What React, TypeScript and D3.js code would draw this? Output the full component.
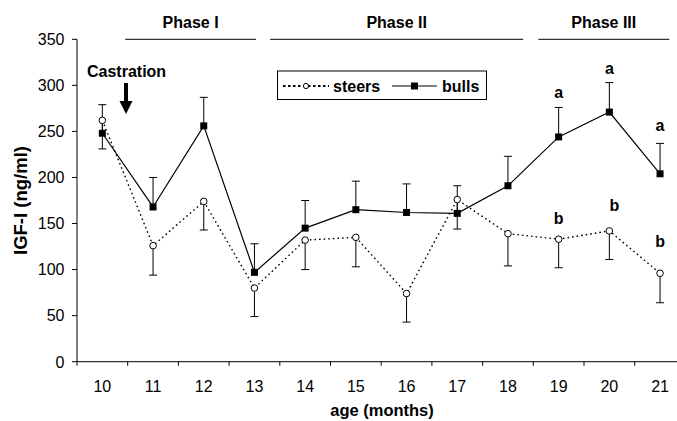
import React from "react";
import * as d3 from "d3";

const months = [10, 11, 12, 13, 14, 15, 16, 17, 18, 19, 20, 21];
const steers = [262, 126, 174, 80, 132, 135, 74, 176, 139, 133, 142, 96];
const steersLow = [231, 94, 143, 49, 100, 103, 43, 144, 104, 102, 111, 64];
const bulls = [248, 168, 256, 97, 145, 165, 162, 161, 191, 244, 271, 204];
const bullsHigh = [279, 200, 287, 128, 175, 196, 193, 191, 223, 276, 303, 237];
const yTicks = [0, 50, 100, 150, 200, 250, 300, 350];
const phaseLabels = ["Phase I", "Phase II", "Phase III"];
const phaseStart = [0.95, 3.81, 9.1];
const phaseEnd = [3.53, 8.8, 11.68];
const letterMonths = [19, 20, 21];
const bullLetters = ["a", "a", "a"];
const bullLetterAt = [286, 312, 250];
const steerLetters = ["b", "b", "b"];
const steerLetterAt = [150, 164, 125];

const W = 677;
const H = 421;
const FONT = "'Liberation Sans', Arial, sans-serif";

export default function App() {
  const x = d3.scaleBand<number>().domain(months).range([77, 77 + 12 * 50.7]).padding(0);
  const cx = (m: number) => (x(m) as number) + x.bandwidth() / 2;
  const y = d3.scaleLinear().domain([0, 350]).range([361.7, 39.3]);
  const unit = x.bandwidth();
  const x0 = 77;

  const line = d3
    .line<number>()
    .x((_, i) => cx(months[i]))
    .y((d) => y(d));

  const cap = 4;
  const fs = 16;

  return (
    <svg width={W} height={H} style={{ position: "absolute", left: 0, top: 0, background: "#fff" }} fontFamily={FONT}>
      <rect width={W} height={H} fill="#fff" />
      {/* phases */}
      {phaseLabels.map((p, i) => {
        const a = x0 + phaseStart[i] * unit;
        const b = x0 + phaseEnd[i] * unit;
        return (
          <g key={p}>
            <line x1={a} x2={b} y1={39.3} y2={39.3} stroke="#000" strokeWidth={1} />
            <text x={(a + b) / 2} y={28.3} textAnchor="middle" fontSize={fs} fontWeight="bold">
              {p}
            </text>
          </g>
        );
      })}

      {/* y axis */}
      <line x1={77} x2={77} y1={y(350)} y2={y(0)} stroke="#000" />
      {yTicks.map((t) => (
        <g key={t}>
          <line x1={72} x2={77} y1={y(t)} y2={y(t)} stroke="#000" />
          <text x={64.5} y={y(t) + 5.8} textAnchor="end" fontSize={fs}>
            {t}
          </text>
        </g>
      ))}
      {/* x axis */}
      <line x1={77} x2={77 + 12 * unit} y1={y(0)} y2={y(0)} stroke="#000" />
      {months.map((m, i) => (
        <g key={m}>
          <line x1={(x(m) as number) + unit} x2={(x(m) as number) + unit} y1={y(0)} y2={y(0) + 4} stroke="#000" />
          {i === 0 && <line x1={x0} x2={x0} y1={y(0)} y2={y(0) + 4} stroke="#000" />}
          <text x={cx(m)} y={392} textAnchor="middle" fontSize={fs}>
            {m}
          </text>
        </g>
      ))}

      <text x={382} y={416} textAnchor="middle" fontSize={16.5} fontWeight="bold">
        age (months)
      </text>
      <text
        transform={`translate(26.5,${(y(0) + y(350)) / 2}) rotate(-90)`}
        textAnchor="middle"
        fontSize={18.5}
        fontWeight="bold"
      >
        IGF-I (ng/ml)
      </text>

      {/* error bars */}
      {months.map((m, i) => (
        <g key={"eb" + m} stroke="#000" strokeWidth={1}>
          <line x1={cx(m)} x2={cx(m)} y1={y(bulls[i])} y2={y(bullsHigh[i])} />
          <line x1={cx(m) - cap} x2={cx(m) + cap} y1={y(bullsHigh[i])} y2={y(bullsHigh[i])} />
          <line x1={cx(m)} x2={cx(m)} y1={y(steers[i])} y2={y(steersLow[i])} />
          <line x1={cx(m) - cap} x2={cx(m) + cap} y1={y(steersLow[i])} y2={y(steersLow[i])} />
        </g>
      ))}

      {/* lines */}
      <path d={line(steers) || ""} fill="none" stroke="#000" strokeWidth={1.4} strokeDasharray="1.6,3" />
      <path d={line(bulls) || ""} fill="none" stroke="#000" strokeWidth={1.2} />

      {/* markers */}
      {months.map((m, i) => (
        <g key={"mk" + m}>
          <circle cx={cx(m)} cy={y(steers[i])} r={3.3} fill="#fff" stroke="#000" strokeWidth={1} />
          <rect x={cx(m) - 3.5} y={y(bulls[i]) - 3.5} width={7} height={7} fill="#000" />
        </g>
      ))}

      {/* letters */}
      {letterMonths.map((m, i) => (
        <g key={"lt" + m} fontSize={fs} fontWeight="bold">
          <text x={cx(m)} y={y(bullLetterAt[i])} textAnchor="middle">
            {bullLetters[i]}
          </text>
          <text x={cx(m) + (i === 1 ? 5 : 0)} y={y(steerLetterAt[i])} textAnchor="middle">
            {steerLetters[i]}
          </text>
        </g>
      ))}

      {/* castration */}
      <text x={87} y={77} fontSize={fs} fontWeight="bold">
        Castration
      </text>
      <line x1={126} x2={126} y1={83} y2={102} stroke="#000" strokeWidth={4} />
      <path d="M119.5,101 L132.5,101 L126,114 Z" fill="#000" />

      {/* legend */}
      <rect x={277.5} y={71} width={209} height={28.5} fill="#fff" stroke="#000" strokeWidth={1} />
      <line x1={283} x2={329} y1={86} y2={86} stroke="#000" strokeWidth={1.8} strokeDasharray="2.5,2.5" />
      <circle cx={306} cy={86} r={2.6} fill="#fff" stroke="#000" strokeWidth={1} />
      <text x={333} y={92} fontSize={fs} fontWeight="bold">
        steers
      </text>
      <line x1={392} x2={437} y1={86} y2={86} stroke="#000" strokeWidth={1.2} />
      <rect x={411} y={82.5} width={7} height={7} fill="#000" />
      <text x={442} y={92} fontSize={fs} fontWeight="bold">
        bulls
      </text>
    </svg>
  );
}
